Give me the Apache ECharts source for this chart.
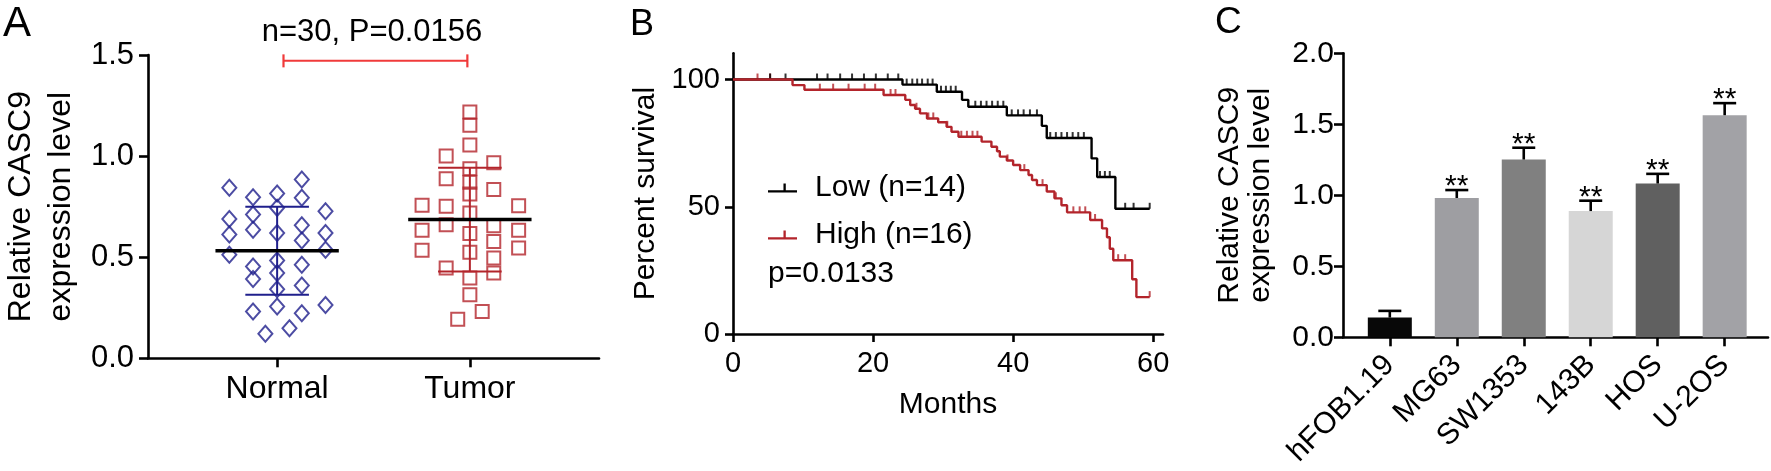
<!DOCTYPE html>
<html><head><meta charset="utf-8">
<script src="https://cdn.jsdelivr.net/npm/echarts@6.0.0/dist/echarts.min.js"></script>
<style>html,body{margin:0;padding:0;background:#fff}#c{width:1771px;height:471px}</style>
</head><body><div id="c"></div>
<script>
// ---------- Panel A data ----------
const groupNames = ['Normal', 'Tumor'];
const normalValues = [0.843,0.797,0.815,0.884,0.794,0.689,0.711,0.744,0.727,0.612,0.636,0.620,0.658,0.620,0.583,0.512,0.537,0.484,0.454,0.463,0.392,0.422,0.342,0.360,0.264,0.231,0.256,0.223,0.149,0.121];
const normalJitter = [-0.248,-0.125,0,0.128,0.128,-0.248,-0.125,0,0.251,-0.248,-0.125,0,0.128,0.251,0.128,-0.248,0.251,0,-0.125,0.128,-0.125,0,0,0.128,0.251,-0.125,0,0.128,0.064,-0.061];
const tumorValues = [1.218,1.152,1.055,1.000,0.967,0.937,0.888,0.871,0.835,0.813,0.757,0.752,0.755,0.719,0.633,0.661,0.656,0.633,0.617,0.578,0.534,0.546,0.524,0.496,0.446,0.422,0.397,0.314,0.231,0.193];
const tumorJitter = [0,0,0,-0.123,0.124,0,-0.123,0,0.124,0,-0.248,-0.123,0.253,0,-0.248,-0.123,0.124,0.253,0,0.124,-0.248,0.253,0,0.124,-0.123,0.124,0,0,0.064,-0.063];
const groupMeans = [0.532, 0.686];
const groupSDs = [0.218, 0.257];
const compareText = 'n=30, P=0.0156';
const compareLevel = 1.471;
const aTicks = [0, 0.5, 1.0, 1.5];

// ---------- Panel B data ----------
const lowSteps = [[0,100],[24.2,98],[29.1,95.2],[32.7,92.0],[33.6,89.3],[39.1,85.9],[44.1,81.8],[44.8,77.0],[51.2,69.0],[52.0,61.7],[54.6,49.2],[59.5,49.2]];
const lowCensor = [5.3,7.5,12.0,13.5,15.3,17.0,18.7,20.4,22.1,23.6,24.8,25.6,26.3,27.0,27.8,28.5,29.7,30.4,31.1,31.8,34.6,35.4,36.2,37.0,37.8,38.6,39.8,40.7,41.5,42.4,43.4,45.3,46.1,46.9,47.7,48.5,49.3,50.1,52.4,53.1,53.8,56.0,57.2,59.5];
const highSteps = [[0,100],[8.5,97.8],[10.2,96.0],[21.5,93.9],[24.6,92.0],[25.3,90.0],[26.0,88.5],[26.7,86.7],[27.7,84.7],[29.3,83.2],[30.5,81.4],[31.2,79.5],[32.2,77.5],[35.5,75.6],[36.9,73.6],[37.7,71.8],[38.1,69.7],[39.1,68.2],[40.0,66.4],[41.0,64.4],[42.2,62.5],[42.7,60.5],[43.4,58.5],[44.8,56.0],[45.9,53.3],[46.9,50.6],[47.7,47.8],[51.0,44.8],[52.7,41.5],[53.4,38.0],[53.8,33.5],[54.3,29.0],[57.0,21.5],[57.6,14.5],[59.5,14.5]];
const highCensor = [3.5,5.3,12.4,14.3,16.5,18.8,20.3,22.5,23.2,26.2,27.9,28.6,30.6,32.6,33.4,34.2,34.9,39.2,41.6,44.2,46.1,48.6,49.5,50.3,51.7,55.0,56.0,59.5];
const groupLabels = ['Low (n=14)', 'High (n=16)'];
const pValueText = 'p=0.0133';
const bXTicks = [0, 20, 40, 60];
const bYTicks = [0, 50, 100];

// ---------- Panel C data ----------
const cellLines = ['hFOB1.19', 'MG63', 'SW1353', '143B', 'HOS', 'U-2OS'];
const cellValues = [0.139, 0.981, 1.252, 0.889, 1.083, 1.564];
const cellErrors = [0.047, 0.056, 0.083, 0.073, 0.068, 0.085];
const cellSig = ['', '**', '**', '**', '**', '**'];
const cTicks = [0, 0.5, 1.0, 1.5, 2.0];

// ---------- styles ----------
const FONT = "'Liberation Sans', Arial, Helvetica, sans-serif";
const NAVY = '#1f1f8c';
const DARKRED = '#b3242b';
const BRIGHTRED = '#f03a3a';
const cellColors = ['#080808', '#9e9ea2', '#808080', '#d6d6d6', '#606060', '#a2a2a6'];
const AX = 2.6;

function survivalAt(steps, t) {
  let s = steps[0][1];
  for (const [tt, v] of steps) { if (tt <= t) s = v; else break; }
  return s;
}

const chart = echarts.init(document.getElementById('c'), null, {renderer: 'canvas'});

function axisCommon(fontSize) {
  return {
    axisLine: {show: true, onZero: false, lineStyle: {color: '#000', width: AX}},
    axisTick: {show: true, length: 9, lineStyle: {color: '#000', width: AX}},
    axisLabel: {color: '#000', fontSize: fontSize, fontFamily: FONT},
    splitLine: {show: false}
  };
}

const meanHalf = 0.32, capHalfA = 0.165;

const option = {
  animation: false,
  backgroundColor: '#fff',
  grid: [
    {left: 143, top: 55, width: 456, height: 303.3},
    {left: 733, top: 53.3, width: 430, height: 280.7},
    {left: 1343, top: 53.3, width: 425, height: 284}
  ],
  xAxis: [
    Object.assign(axisCommon(32), {
      type: 'value', gridIndex: 0, min: 0.33, max: 2.67,
      axisTick: {show: true, length: 9, customValues: [1, 2], lineStyle: {color: '#000', width: AX}},
      axisLabel: {customValues: [1, 2], formatter: v => groupNames[Math.round(v) - 1], color: '#000', fontSize: 32, fontFamily: FONT, margin: 15}
    }),
    Object.assign(axisCommon(29), {
      type: 'value', gridIndex: 1, min: 0, max: 61.4,
      axisTick: {show: true, length: 8, customValues: bXTicks, lineStyle: {color: '#000', width: AX}},
      axisLabel: {customValues: bXTicks, color: '#000', fontSize: 29, fontFamily: FONT, margin: 15},
      name: 'Months', nameLocation: 'middle', nameGap: 56,
      nameTextStyle: {color: '#000', fontSize: 30, fontFamily: FONT}
    }),
    Object.assign(axisCommon(30), {
      type: 'value', gridIndex: 2, min: -0.699, max: 5.647,
      axisTick: {show: true, length: 9, customValues: [0,1,2,3,4,5], lineStyle: {color: '#000', width: AX}},
      axisLabel: {customValues: [0,1,2,3,4,5], formatter: v => cellLines[Math.round(v)], rotate: 45, color: '#000', fontSize: 30, fontFamily: FONT, margin: 23}
    })
  ],
  yAxis: [
    Object.assign(axisCommon(31), {
      type: 'value', gridIndex: 0, min: 0, max: 1.5,
      axisTick: {show: true, length: 9, customValues: aTicks, lineStyle: {color: '#000', width: AX}},
      axisLabel: {customValues: aTicks, formatter: v => v.toFixed(1), color: '#000', fontSize: 31, fontFamily: FONT, margin: 14},
      name: 'Relative CASC9\nexpression level', nameLocation: 'middle', nameGap: 67, nameRotate: 90,
      nameTextStyle: {color: '#000', fontSize: 32, lineHeight: 40, fontFamily: FONT}
    }),
    Object.assign(axisCommon(29), {
      type: 'value', gridIndex: 1, min: 0, max: 110.3,
      axisTick: {show: true, length: 8, customValues: bYTicks, lineStyle: {color: '#000', width: AX}},
      axisLabel: {customValues: bYTicks, color: '#000', fontSize: 29, fontFamily: FONT, margin: 13},
      name: 'Percent survival', nameLocation: 'middle', nameGap: 72, nameRotate: 90,
      nameTextStyle: {color: '#000', fontSize: 30, lineHeight: 30, fontFamily: FONT}
    }),
    Object.assign(axisCommon(30), {
      type: 'value', gridIndex: 2, min: 0, max: 2.0,
      axisTick: {show: true, length: 9, customValues: cTicks, lineStyle: {color: '#000', width: AX}},
      axisLabel: {customValues: cTicks, formatter: v => v.toFixed(1), color: '#000', fontSize: 30, fontFamily: FONT, margin: 9},
      name: 'Relative CASC9\nexpression level', nameLocation: 'middle', nameGap: 67, nameRotate: 90,
      nameTextStyle: {color: '#000', fontSize: 30, lineHeight: 31, fontFamily: FONT}
    })
  ],
  legend: {
    orient: 'vertical', left: 763, top: 168, itemWidth: 29, itemHeight: 10, itemGap: 17,
    icon: 'path://M0,8h30v2.4h-30z M16,1h2.4v8h-2.4z',
    data: groupLabels,
    textStyle: {color: '#000', fontSize: 30, lineHeight: 30, fontFamily: FONT, padding: [0, 0, 0, 13]},
    selectedMode: false
  },
  graphic: [
    {type: 'text', left: 3, top: 3, style: {text: 'A', font: '42px ' + FONT, fill: '#000'}},
    {type: 'text', left: 630, top: 7, style: {text: 'B', font: '36px ' + FONT, fill: '#000'}},
    {type: 'text', left: 1215, top: 4, style: {text: 'C', font: '37px ' + FONT, fill: '#000'}},
    {type: 'text', x: 372, y: 17, style: {text: compareText, font: '31px ' + FONT, fill: '#000', textAlign: 'center', textVerticalAlign: 'top'}},
    {type: 'text', x: 768, y: 259, style: {text: pValueText, font: '30px ' + FONT, fill: '#000', textAlign: 'left', textVerticalAlign: 'top'}}
  ],
  series: [
    // Panel A scatter
    {type: 'scatter', xAxisIndex: 0, yAxisIndex: 0, symbol: 'diamond', symbolSize: [14, 16],
     itemStyle: {color: 'rgba(0,0,0,0)', borderColor: NAVY, borderWidth: 2},
     data: normalValues.map((v, i) => [1 + normalJitter[i], v])},
    {type: 'scatter', xAxisIndex: 0, yAxisIndex: 0, symbol: 'rect', symbolSize: 13,
     itemStyle: {color: 'rgba(0,0,0,0)', borderColor: DARKRED, borderWidth: 2},
     data: tumorValues.map((v, i) => [2 + tumorJitter[i], v])},
    // Panel A mean & SD
    {type: 'custom', xAxisIndex: 0, yAxisIndex: 0, z: 5,
     data: groupMeans.map((m, i) => [i + 1, m, groupSDs[i]]),
     renderItem: (params, api) => {
       const x = api.value(0), m = api.value(1), s = api.value(2);
       const col = params.dataIndex === 0 ? NAVY : DARKRED;
       const st = {stroke: col, lineWidth: 2};
       const p = (a, b) => api.coord([a, b]);
       const ln = (a, b, style) => ({type: 'line', shape: {x1: a[0], y1: a[1], x2: b[0], y2: b[1]}, style: style});
       return {type: 'group', children: [
         ln(p(x, m + s), p(x, m - s), st),
         ln(p(x - capHalfA, m + s), p(x + capHalfA, m + s), st),
         ln(p(x - capHalfA, m - s), p(x + capHalfA, m - s), st),
         ln(p(x - meanHalf, m), p(x + meanHalf, m), {stroke: '#000', lineWidth: 3.5})
       ]};
     }},
    // Panel A comparison bar
    {type: 'line', xAxisIndex: 0, yAxisIndex: 0, symbol: 'rect', symbolSize: [2.2, 13], showSymbol: true,
     lineStyle: {color: BRIGHTRED, width: 2}, itemStyle: {color: BRIGHTRED},
     data: [[1.033, compareLevel], [1.987, compareLevel]]},
    // Panel B KM curves
    {type: 'line', name: groupLabels[0], xAxisIndex: 1, yAxisIndex: 1, step: 'end', showSymbol: false, symbol: 'none',
     color: '#000', lineStyle: {color: '#000', width: 2.4}, itemStyle: {color: '#000'}, data: lowSteps},
    {type: 'line', name: groupLabels[1], xAxisIndex: 1, yAxisIndex: 1, step: 'end', showSymbol: false, symbol: 'none',
     color: DARKRED, lineStyle: {color: DARKRED, width: 2.4}, itemStyle: {color: DARKRED}, data: highSteps},
    {type: 'scatter', xAxisIndex: 1, yAxisIndex: 1, symbol: 'rect', symbolSize: [2, 6], symbolOffset: [0, -3],
     itemStyle: {color: DARKRED}, data: highCensor.map(t => [t, survivalAt(highSteps, t)])},
    {type: 'scatter', xAxisIndex: 1, yAxisIndex: 1, symbol: 'rect', symbolSize: [2, 6], symbolOffset: [0, -3],
     itemStyle: {color: '#000'}, data: lowCensor.map(t => [t, survivalAt(lowSteps, t)])},
    // Panel C bars
    {type: 'bar', xAxisIndex: 2, yAxisIndex: 2, barWidth: 44,
     data: cellValues.map((v, i) => ({value: [i, v], itemStyle: {color: cellColors[i]}}))},
    {type: 'custom', xAxisIndex: 2, yAxisIndex: 2, z: 5,
     data: cellValues.map((v, i) => [i, v, cellErrors[i]]),
     renderItem: (params, api) => {
       const x = api.value(0), v = api.value(1), e = api.value(2);
       const base = api.coord([x, v]);
       const top = api.coord([x, v + e]);
       const half = 11.5;
       const st = {stroke: '#000', lineWidth: 2.6};
       return {type: 'group', children: [
         {type: 'line', shape: {x1: base[0], y1: base[1], x2: top[0], y2: top[1]}, style: st},
         {type: 'line', shape: {x1: top[0] - half, y1: top[1], x2: top[0] + half, y2: top[1]}, style: st},
         {type: 'text', x: top[0], y: top[1] - 3, style: {text: cellSig[params.dataIndex], font: '30px ' + FONT, fill: '#000', textAlign: 'center', textVerticalAlign: 'middle'}}
       ]};
     }}
  ]
};
chart.setOption(option);
</script></body></html>
